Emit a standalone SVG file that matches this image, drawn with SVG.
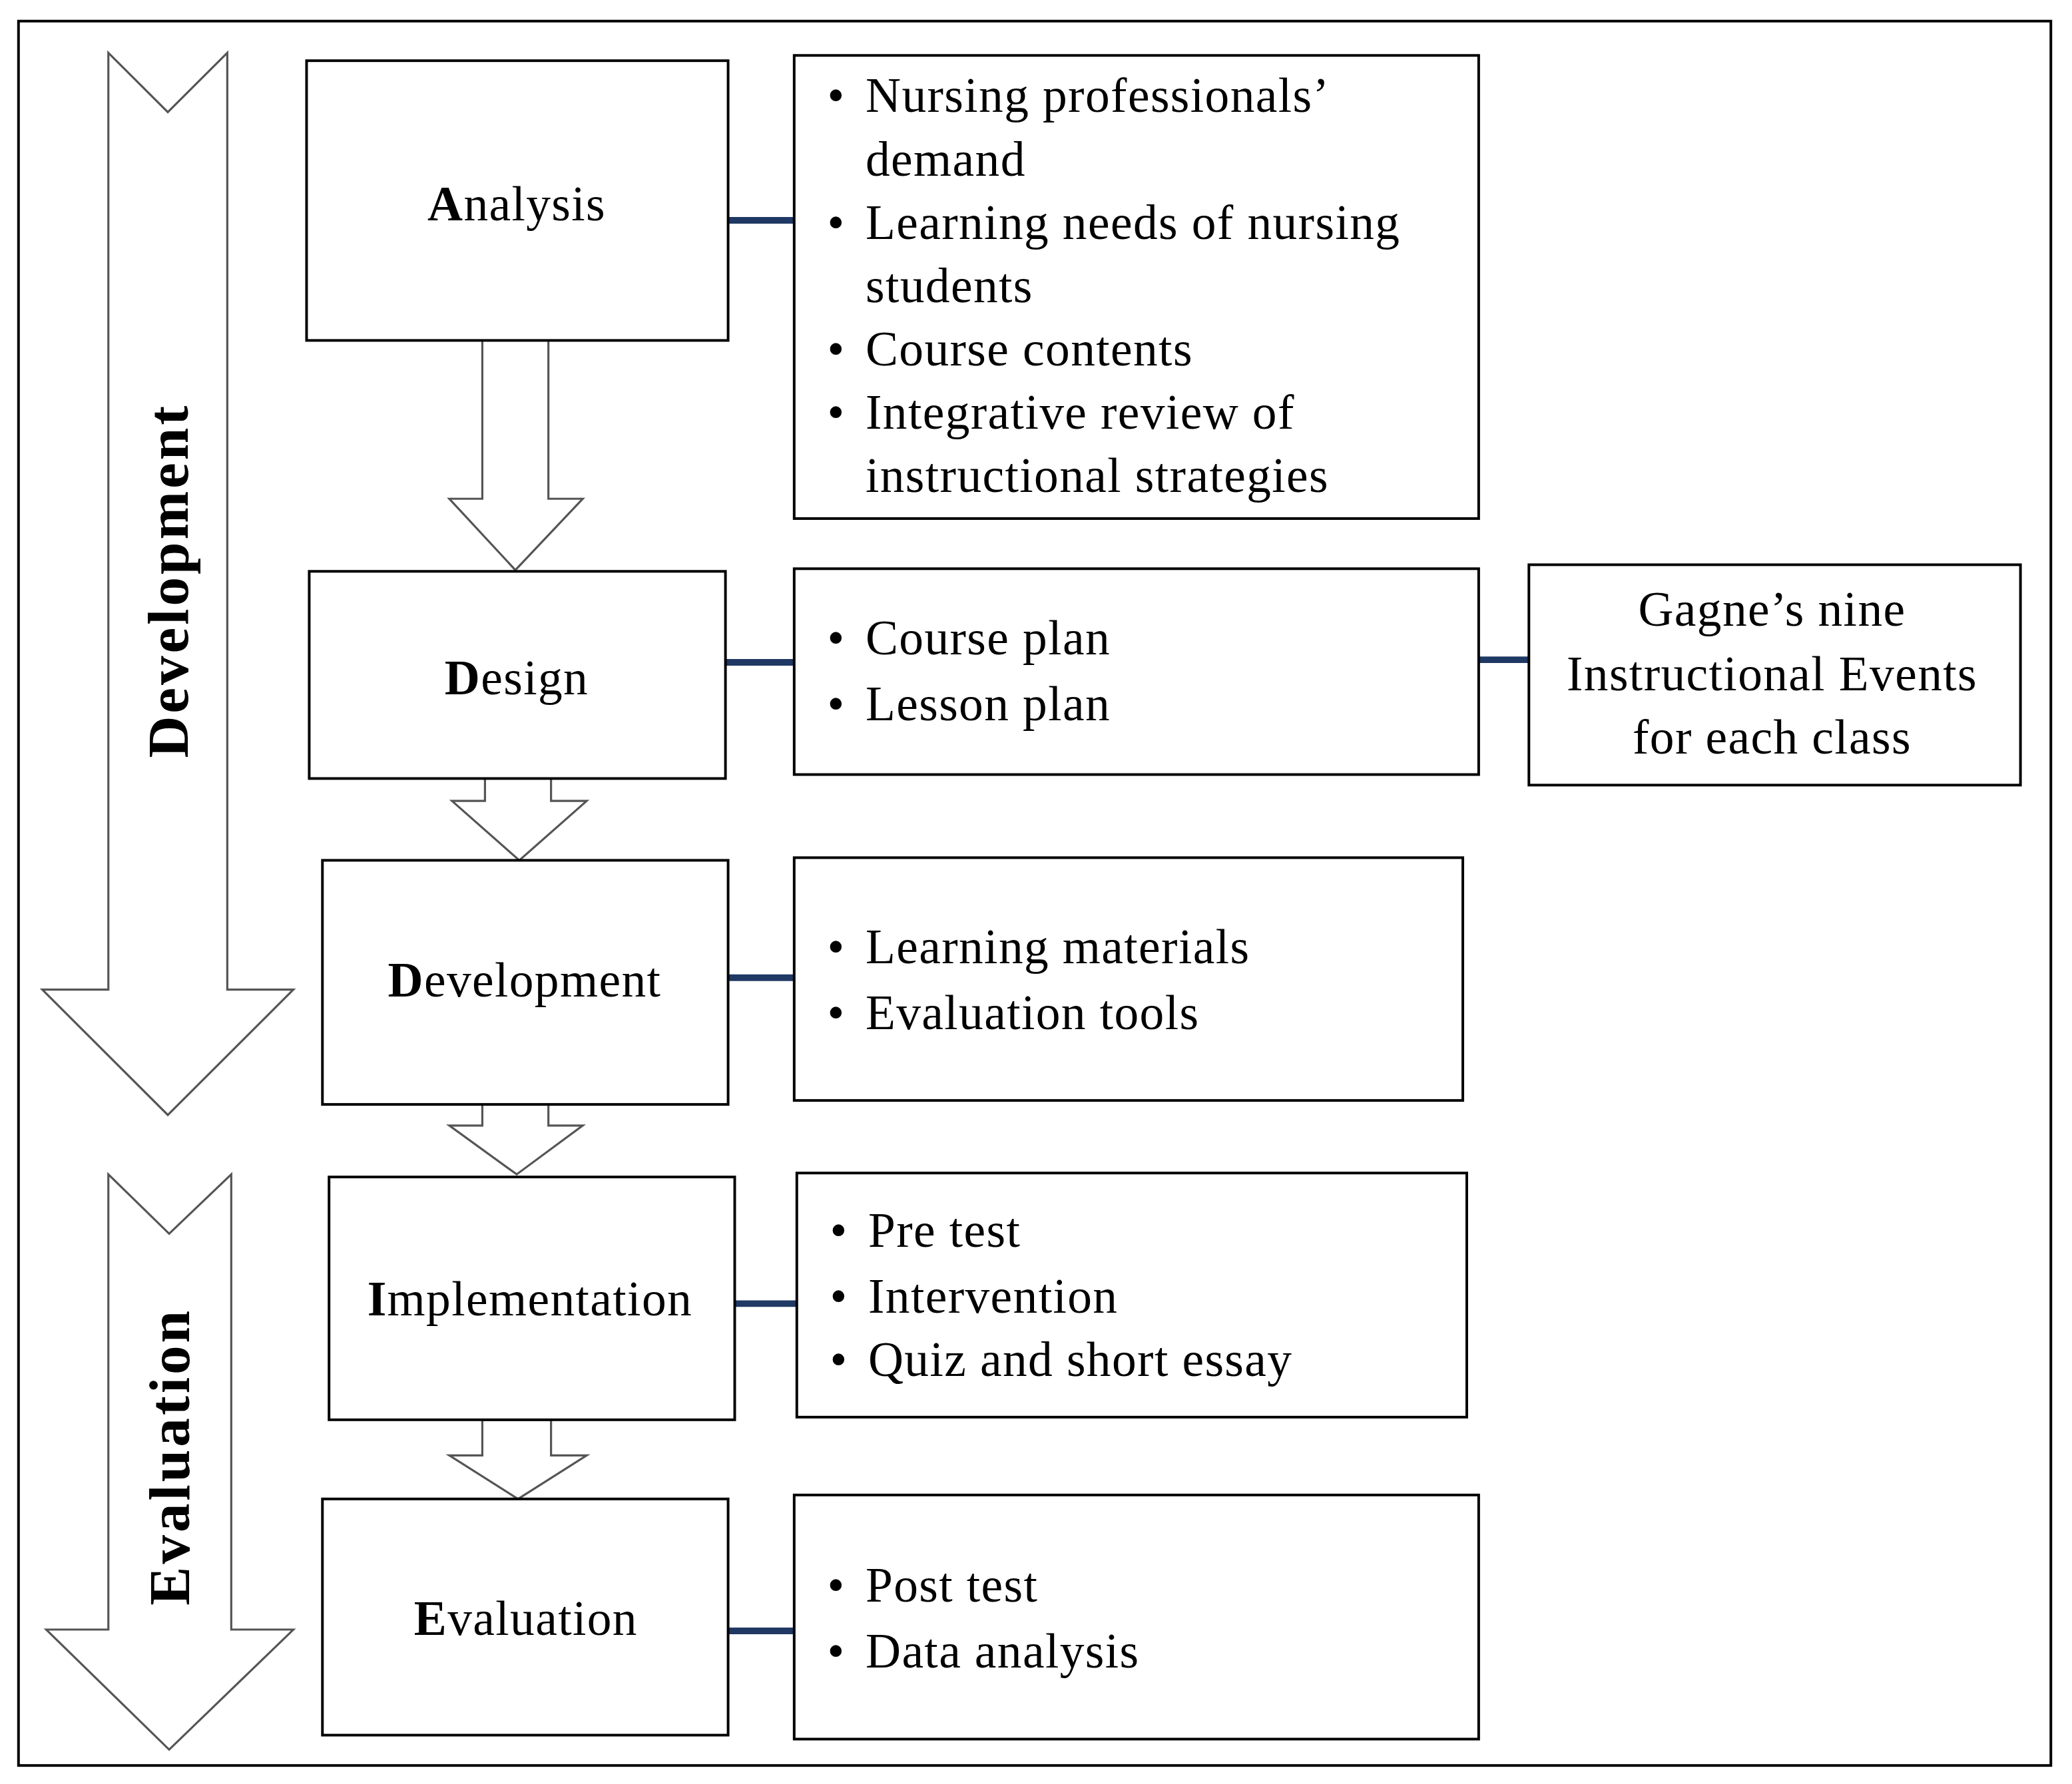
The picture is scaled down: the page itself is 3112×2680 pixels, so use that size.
<svg xmlns="http://www.w3.org/2000/svg" width="3112" height="2680" viewBox="0 0 3112 2680">
<style>
.box{fill:#fff;stroke:#000;stroke-width:2}
.arr{fill:#fff;stroke:#555;stroke-width:1.6;stroke-linejoin:miter}
.con{stroke:#1f3864;stroke-width:5}
text{font-family:"Liberation Serif","Times New Roman",serif;font-size:37px;fill:#000;letter-spacing:0.7px}
.c{text-anchor:middle}
.v{font-weight:bold;font-size:44px;letter-spacing:2px}
</style>
<rect width="3112" height="2680" fill="#fff"/>
<g transform="scale(1.9847,1.9822)">
<rect x="14" y="16" width="1538" height="1322" fill="none" stroke="#000" stroke-width="2"/>
<g id="phase-development">
<path class="arr" d="M82,40 L127,85 L172,40 L172,750 L222,750 L127,845 L32,750 L82,750 Z"/>
<text class="v c" transform="translate(142,440) rotate(-90)">Development</text>
</g>
<g id="phase-evaluation">
<path class="arr" d="M82,890 L128,935 L175,890 L175,1235 L222,1235 L128,1326 L35,1235 L82,1235 Z"/>
<text class="v c" transform="translate(143,1104) rotate(-90)">Evaluation</text>
</g>
<g id="flow-arrows">
<path class="arr" d="M365,258 L415,258 L415,378 L441,378 L390,432 L340,378 L365,378 Z"/>
<path class="arr" d="M367,590 L417,590 L417,607 L444,607 L393,652 L342,607 L367,607 Z"/>
<path class="arr" d="M365,837 L415,837 L415,853 L441,853 L391,890 L340,853 L365,853 Z"/>
<path class="arr" d="M365,1076 L417,1076 L417,1103 L444,1103 L392,1136 L340,1103 L365,1103 Z"/>
</g>
<g id="connectors">
<line class="con" x1="551" y1="167" x2="601" y2="167"/>
<line class="con" x1="549" y1="502" x2="601" y2="502"/>
<line class="con" x1="1119" y1="500" x2="1157" y2="500"/>
<line class="con" x1="551" y1="741" x2="601" y2="741"/>
<line class="con" x1="556" y1="988" x2="603" y2="988"/>
<line class="con" x1="551" y1="1236" x2="601" y2="1236"/>
</g>
<g id="analysis"><rect class="box" x="232" y="46" width="319" height="212"/><text class="c" x="391" y="167"><tspan font-weight="bold">A</tspan>nalysis</text></g>
<g id="design"><rect class="box" x="234" y="433" width="315" height="157"/><text class="c" x="391" y="526"><tspan font-weight="bold">D</tspan>esign</text></g>
<g id="development"><rect class="box" x="244" y="652" width="307" height="185"/><text class="c" x="397" y="755"><tspan font-weight="bold">D</tspan>evelopment</text></g>
<g id="implementation"><rect class="box" x="249" y="892" width="307" height="184"/><text class="c" x="401" y="997"><tspan font-weight="bold">I</tspan>mplementation</text></g>
<g id="evaluation"><rect class="box" x="244" y="1136" width="307" height="179"/><text class="c" x="398" y="1239"><tspan font-weight="bold">E</tspan>valuation</text></g>
<g id="analysis-items"><rect class="box" x="601" y="42" width="518" height="351"/>
<text x="626" y="85">•</text><text x="655" y="85">Nursing professionals’</text>
<text x="655" y="133">demand</text>
<text x="626" y="181">•</text><text x="655" y="181">Learning needs of nursing</text>
<text x="655" y="229">students</text>
<text x="626" y="277">•</text><text x="655" y="277">Course contents</text>
<text x="626" y="325">•</text><text x="655" y="325">Integrative review of</text>
<text x="655" y="373">instructional strategies</text>
</g>
<g id="design-items"><rect class="box" x="601" y="431" width="518" height="156"/>
<text x="626" y="496">•</text><text x="655" y="496">Course plan</text>
<text x="626" y="546">•</text><text x="655" y="546">Lesson plan</text>
</g>
<g id="gagne"><rect class="box" x="1157" y="428" width="372" height="167"/>
<text class="c" x="1341" y="474">Gagne’s nine</text>
<text class="c" x="1341" y="523">Instructional Events</text>
<text class="c" x="1341" y="571">for each class</text>
</g>
<g id="development-items"><rect class="box" x="601" y="650" width="506" height="184"/>
<text x="626" y="730">•</text><text x="655" y="730">Learning materials</text>
<text x="626" y="780">•</text><text x="655" y="780">Evaluation tools</text>
</g>
<g id="implementation-items"><rect class="box" x="603" y="889" width="507" height="185"/>
<text x="628" y="945">•</text><text x="657" y="945">Pre test</text>
<text x="628" y="995">•</text><text x="657" y="995">Intervention</text>
<text x="628" y="1043">•</text><text x="657" y="1043">Quiz and short essay</text>
</g>
<g id="evaluation-items"><rect class="box" x="601" y="1133" width="518" height="185"/>
<text x="626" y="1214">•</text><text x="655" y="1214">Post test</text>
<text x="626" y="1264">•</text><text x="655" y="1264">Data analysis</text>
</g>
</g>
</svg>
